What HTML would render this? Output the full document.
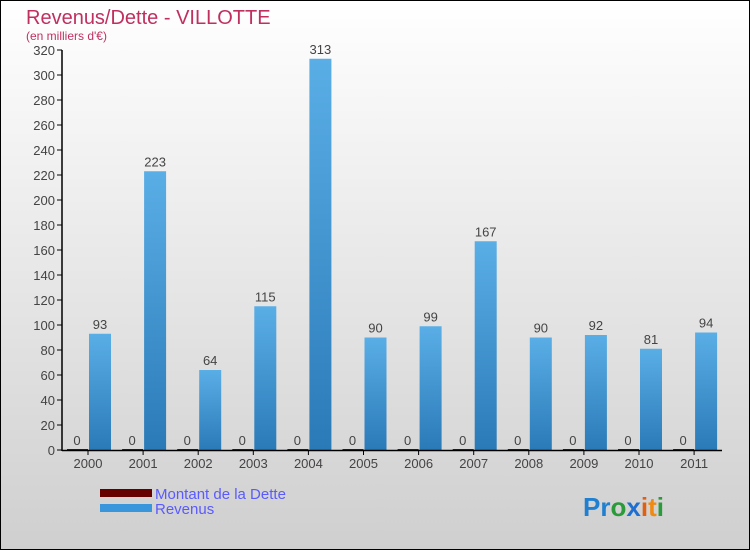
<!DOCTYPE html>
<html><head><meta charset="utf-8"><style>
body{margin:0}
#c{position:relative;width:748px;height:548px;border:1px solid #000;background:linear-gradient(#ffffff,#cfcfcf);font-family:"Liberation Sans",sans-serif;overflow:hidden}
</style></head><body>
<div id="c">
<svg width="748" height="548" id="s">
<defs>
<linearGradient id="bg" x1="0" y1="0" x2="0" y2="1"><stop offset="0" stop-color="#5aaee6"/><stop offset="1" stop-color="#2a7ab8"/></linearGradient>
</defs>
<text x="25" y="23" font-size="20" fill="#c0305f">Revenus/Dette - VILLOTTE</text>
<text x="25" y="39" font-size="12" fill="#c0305f">(en milliers d'€)</text>
<g id="g"></g>
<rect x="99" y="488" width="52" height="8" fill="#660000"/>
<rect x="99" y="503" width="52" height="8" fill="#3a96dc"/>
<text x="154" y="498" font-size="15" fill="#5a5aff">Montant de la Dette</text>
<text x="154" y="513" font-size="15" fill="#5a5aff">Revenus</text>
<text x="582" y="515" font-size="26" font-weight="bold"><tspan fill="#1f7fd0">Pr</tspan><tspan fill="#2a9a3a">o</tspan><tspan fill="#1f6fd0">x</tspan><tspan fill="#e06010">i</tspan><tspan fill="#f08a10">t</tspan><tspan fill="#2a9a3a">i</tspan></text>
</svg>
</div>
<script>
const years=["2000","2001","2002","2003","2004","2005","2006","2007","2008","2009","2010","2011"];
const revenus=[93,223,64,115,313,90,99,167,90,92,81,94];
const dette=[0,0,0,0,0,0,0,0,0,0,0,0];
const yTicks=[0,20,40,60,80,100,120,140,160,180,200,220,240,260,280,300,320];
const NS="http://www.w3.org/2000/svg";
const g=document.getElementById('g');
const y=v=>449-v*1.25;
const x=i=>87+i*55.1;
function el(t,a,txt){const e=document.createElementNS(NS,t);for(const k in a)e.setAttribute(k,a[k]);if(txt!==undefined)e.textContent=txt;g.appendChild(e);return e;}
yTicks.forEach(t=>{
 const l=el('line',{x1:56,x2:61,y1:y(t),y2:y(t),stroke:'#000'});
 
 
 const tx=el('text',{x:54,y:y(t)+5,'font-size':13,fill:'#444','text-anchor':'end'},t);
 
 
});
years.forEach((yr,i)=>{
 const cx=x(i);
 const d=el('rect',{x:cx-21,y:y(dette[i])-1,width:21,height:1+dette[i]*1.25,fill:'#800000'});
 
 
 const r=el('rect',{x:cx+1,y:y(revenus[i]),width:22,height:revenus[i]*1.25,fill:'url(#bg)'});
 
 
 const dl=el('text',{x:cx-11,y:y(dette[i])-5,'font-size':13,fill:'#444','text-anchor':'middle'},dette[i]);
 
 
 const rl=el('text',{x:cx+12,y:y(revenus[i])-5,'font-size':13,fill:'#444','text-anchor':'middle'},revenus[i]);
 
 
 const tk=el('line',{x1:cx,x2:cx,y1:449,y2:454,stroke:'#000'});
 
 
 const xl=el('text',{x:cx,y:467,'font-size':13,fill:'#444','text-anchor':'middle'},yr);
 
 
});
const ya=el('line',{x1:61,x2:61,y1:y(320),y2:450,stroke:'#000','stroke-width':1.5});


const xa=el('line',{x1:61,x2:721,y1:449.5,y2:449.5,stroke:'#000','stroke-width':1.5});


</script>
</body></html>
